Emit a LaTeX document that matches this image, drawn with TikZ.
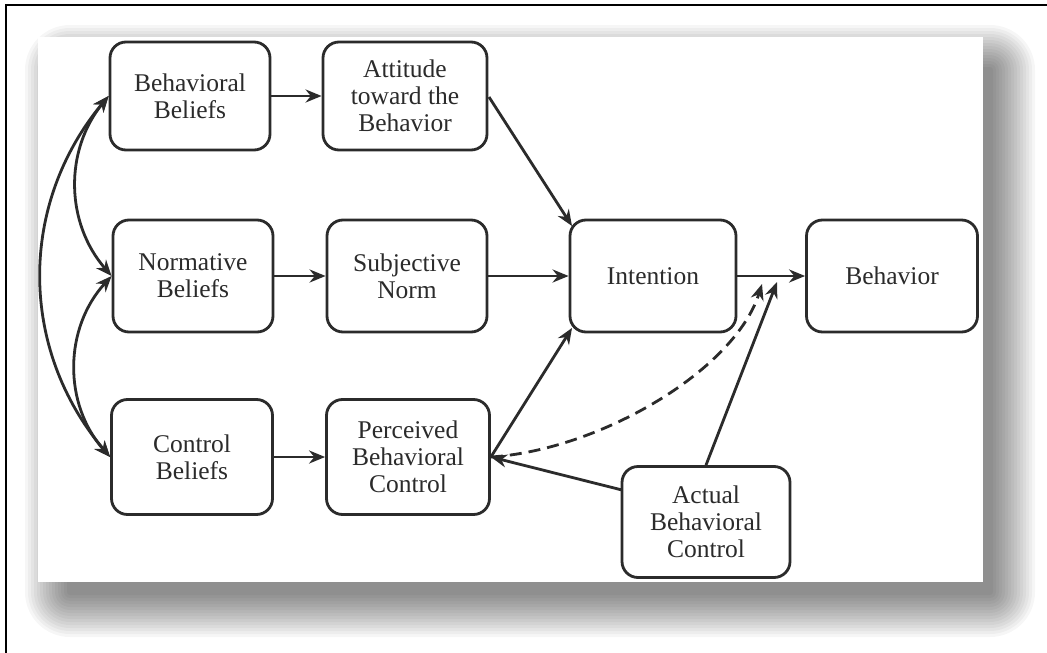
\documentclass[tikz,border=0pt]{standalone}
\usepackage{fontspec}
\setmainfont{Liberation Serif}
\usetikzlibrary{arrows.meta}
\definecolor{ink}{HTML}{2B2B2B}
\begin{document}
\begin{tikzpicture}[x=1pt,y=-1pt,
  box/.style={draw=ink, line width=2.8pt, rounded corners=16pt, fill=white,
    minimum width=162pt, minimum height=110pt, align=center, text=ink,
    font=\fontsize{25.5}{27}\selectfont, inner sep=2pt},
  conn/.style={draw=ink, line width=2.8pt, -{Stealth[length=16pt,width=13pt]}},
  both/.style={draw=ink, line width=2.8pt, {Stealth[length=16pt,width=13pt]}-{Stealth[length=16pt,width=13pt]}}]
\useasboundingbox (0,0) rectangle (1047,653);
\fill[white] (0,0) rectangle (1047,653);
% shadow
\foreach \i in {1,...,15}{
  \fill[black, opacity=0.035, rounded corners=3*\i pt]
    (70-3*\i, 70-3*\i) rectangle (990+3*\i, 592+3*\i);
}
\fill[white] (38,37) rectangle (983,582);
% frame
\draw[black, line width=2pt] (6,653) -- (6,5) -- (1047,5);
% nodes
\node[box, minimum width=160pt, minimum height=108pt] (bb) at (190,96) {Behavioral\\Beliefs};
\node[box, minimum width=164pt, minimum height=108pt] (att) at (405,96) {Attitude\\toward the\\Behavior};
\node[box, minimum width=160pt, minimum height=112pt] (nb) at (193,276) {Normative\\Beliefs};
\node[box, minimum width=160pt, minimum height=112pt] (sn) at (407,276) {Subjective\\Norm};
\node[box, minimum width=161pt, minimum height=115pt] (cb) at (192,457) {Control\\Beliefs};
\node[box, minimum width=163pt, minimum height=115pt] (pbc) at (408,457) {Perceived\\Behavioral\\Control};
\node[box, minimum width=166pt, minimum height=112pt] (int) at (653,276) {Intention};
\node[box, minimum width=171pt, minimum height=112pt] (beh) at (892,276) {Behavior};
\node[box, minimum width=168pt, minimum height=111pt] (abc) at (706,522) {Actual\\Behavioral\\Control};
% helper coordinates
\coordinate (m1) at (762,284);
\coordinate (m2) at (777,282);
\coordinate (attout) at (489,97);
\coordinate (intin1) at (572,226);
\coordinate (intin2) at (572,328);
\coordinate (abcl) at (622,490);
% connectors
\draw[conn] (bb.east) -- (att.west);
\draw[conn] (nb.east) -- (sn.west);
\draw[conn] (cb.east) -- (pbc.west);
\draw[conn] (attout) -- (intin1);
\draw[conn] (sn.east) -- (int.west);
\draw[conn] (pbc.east) -- (intin2);
\draw[conn] (int.east) -- (beh.west);
\draw[conn] (abc.north) -- (m2);
\draw[conn] (abcl) -- (pbc.east);
\draw[conn, dashed, dash pattern=on 12pt off 7pt] (pbc.east) .. controls (600,450) and (735,370) .. (m1);
\draw[both] (bb.west) to[bend right=40] (nb.west);
\draw[both] (nb.west) to[bend right=42] (cb.west);
\draw[both] (bb.west) to[bend right=40] (cb.west);
\end{tikzpicture}
\end{document}
